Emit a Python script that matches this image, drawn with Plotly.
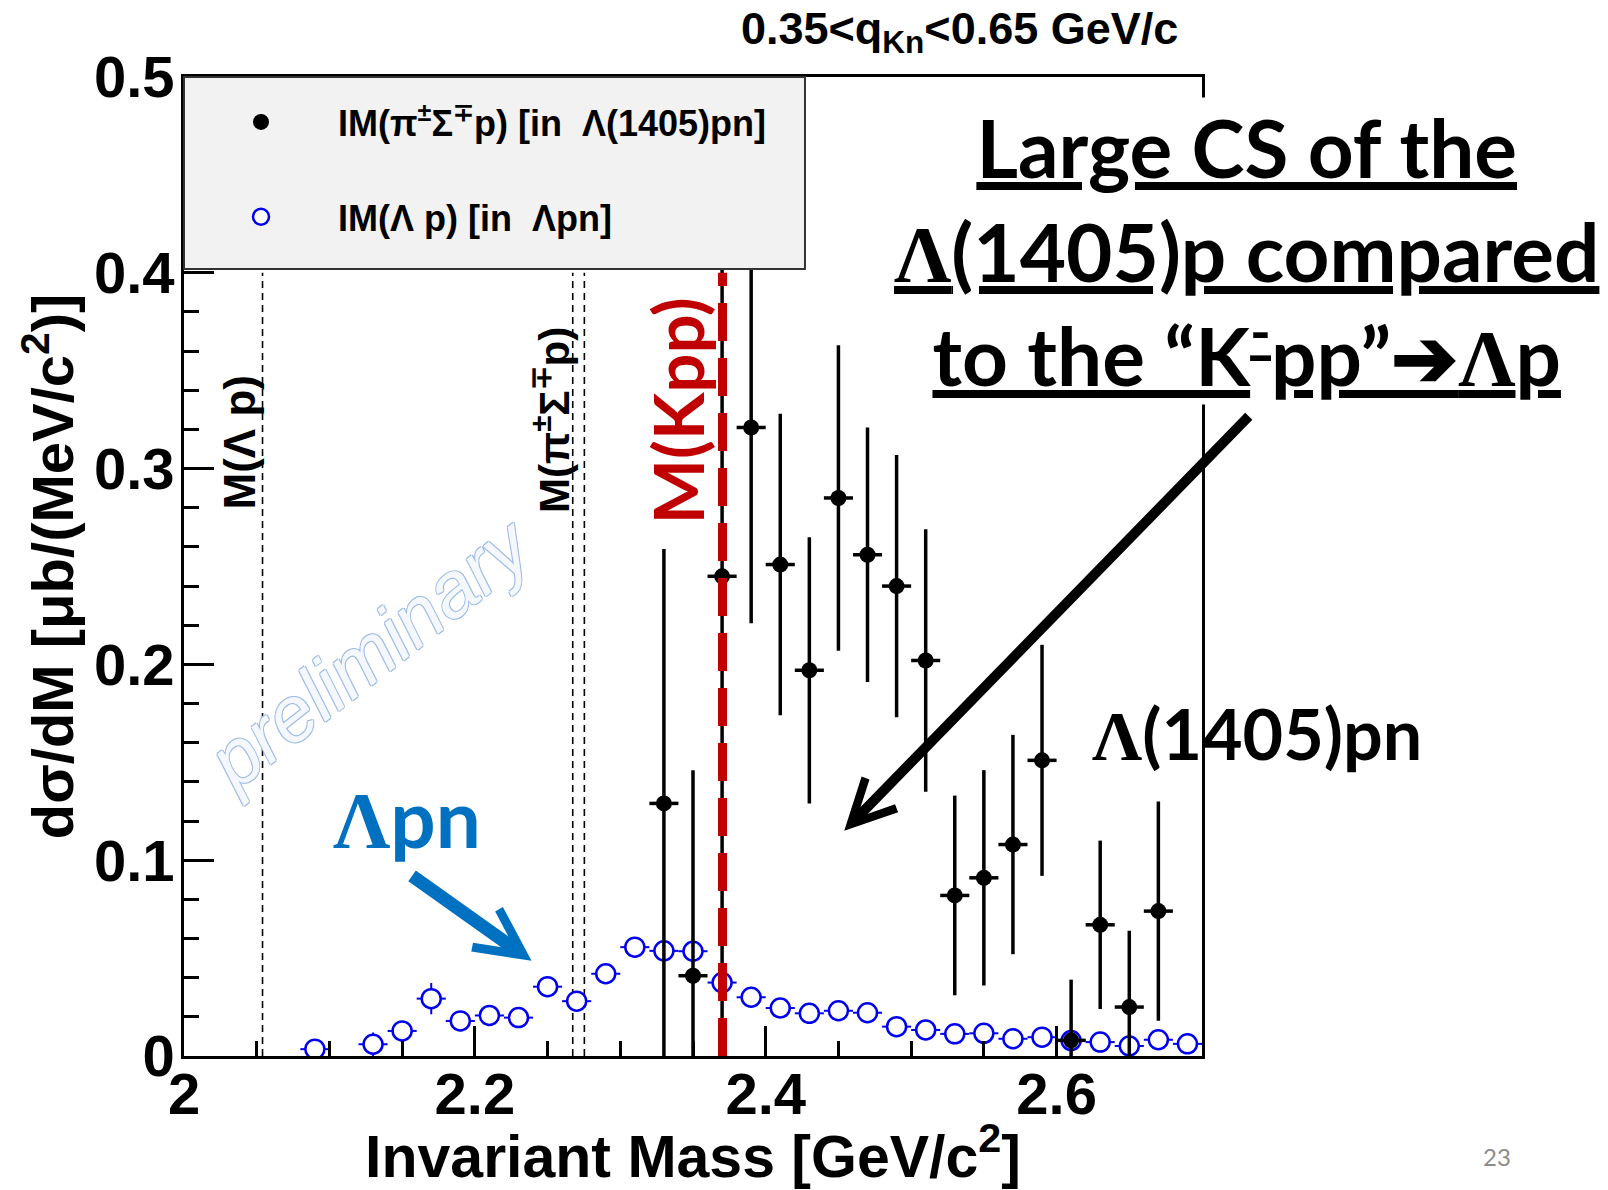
import plotly.graph_objects as go

# Invariant mass bin centres [GeV/c^2] and cross sections [ub/(MeV/c^2)]
# IM(pi Sigma p) in the Lambda(1405)pn channel
m_lpn = [2.33, 2.35, 2.37, 2.39, 2.41, 2.43, 2.45, 2.47, 2.49, 2.51,
         2.53, 2.55, 2.57, 2.59, 2.61, 2.63, 2.65, 2.67]
xs_lpn = [0.129, 0.041, 0.245, 0.321, 0.251, 0.197, 0.285, 0.256, 0.240, 0.202,
          0.082, 0.091, 0.108, 0.151, 0.008, 0.067, 0.025, 0.074]
err_lpn = [0.130, 0.105, 0.250, 0.100, 0.077, 0.068, 0.078, 0.065, 0.067, 0.067,
           0.051, 0.055, 0.056, 0.059, 0.031, 0.043, 0.039, 0.056]

# IM(Lambda p) in the Lambda pn channel
m_lp = [2.09, 2.13, 2.15, 2.17, 2.19, 2.21, 2.23, 2.25, 2.27, 2.29,
        2.31, 2.33, 2.35, 2.37, 2.39, 2.41, 2.43, 2.45, 2.47, 2.49,
        2.51, 2.53, 2.55, 2.57, 2.59, 2.61, 2.63, 2.65, 2.67, 2.69]
xs_lp = [0.0035, 0.006, 0.0128, 0.0293, 0.0179, 0.0207, 0.0196, 0.0354, 0.028, 0.042,
         0.0556, 0.0537, 0.0535, 0.0375, 0.030, 0.0245, 0.0218, 0.0231, 0.0221, 0.015,
         0.0133, 0.0113, 0.0116, 0.0088, 0.0096, 0.0079, 0.0071, 0.0051, 0.0083, 0.0062]
err_lp = [0.003, 0.006, 0.005, 0.008, 0.004, 0.004, 0.004, 0.005, 0.005, 0.004,
          0.004, 0.004, 0.004, 0.004, 0.003, 0.003, 0.003, 0.003, 0.003, 0.003,
          0.003, 0.003, 0.003, 0.003, 0.003, 0.003, 0.003, 0.003, 0.003, 0.003]
bin_half = 0.01

# Thresholds [GeV/c^2]
m_lambda_p = 2.054
m_pisigma_p = [2.2673, 2.2753]
m_kpp = 2.3703

NARROW = "Liberation Sans Narrow, Liberation Sans, Arial"
SANS = "Liberation Sans, Arial"
CAL = "Lato, Open Sans, sans-serif"
SERIF_L = "<span style='font-family:Liberation Serif'>Λ</span>"

# plot area in pixels, used to place the free-standing labels
L, R, T, B = 184, 1202, 77, 1056


def px(xp):
    return (xp - L) / (R - L)


def py(yp):
    return (B - yp) / (B - T)


fig = go.Figure()

fig.add_trace(go.Scatter(
    x=m_lp, y=xs_lp, mode="markers",
    name="IM(Λ p) [in  Λpn]", legendgroup="b", legendrank=2,
    marker=dict(symbol="circle", size=19, color="white",
                line=dict(color="#0000ee", width=2.5)),
    error_x=dict(type="constant", value=bin_half, color="#0000ee", thickness=2, width=0),
    error_y=dict(type="data", array=err_lp, color="#0000ee", thickness=2, width=0),
))

fig.add_trace(go.Scatter(
    x=m_lpn, y=xs_lpn, mode="markers",
    name="IM(π<sup>±</sup>Σ<sup>∓</sup>p) [in  Λ(1405)pn]", legendgroup="a", legendrank=1,
    marker=dict(symbol="circle", size=16, color="black"),
    error_x=dict(type="constant", value=bin_half, color="black", thickness=3.5, width=0),
    error_y=dict(type="data", array=err_lpn, color="black", thickness=3.5, width=0),
))

shapes = []
# threshold markers (thin dashed)
for xv in [m_lambda_p] + m_pisigma_p:
    shapes.append(dict(type="line", xref="x", yref="y", x0=xv, x1=xv, y0=0, y1=0.4,
                       line=dict(color="black", width=1.6, dash="7px,5px"), layer="below"))
# K-pp mass threshold (thick red dashed)
shapes.append(dict(type="line", xref="x", yref="y", x0=m_kpp, x1=m_kpp, y0=0, y1=0.4,
                   line=dict(color="#c00000", width=9, dash="38px,17px"), layer="above"))
# legend box
shapes.append(dict(type="rect", xref="paper", yref="paper", x0=0, x1=0.61, y0=0.804, y1=1.0,
                   fillcolor="#f2f2f2", line=dict(color="#333333", width=2), layer="above"))

annotations = [
    dict(x=px(959), y=py(32), xref="paper", yref="paper", xanchor="center", yanchor="middle",
         showarrow=False, text="0.35<q<sub>Kn</sub><0.65 GeV/c",
         font=dict(family=SANS, size=45, color="black", weight="bold")),
    dict(x=2.0379, y=0.3134, xref="x", yref="y", showarrow=False, textangle=-90,
         text="M(Λ p)", font=dict(family=NARROW, size=44, color="black", weight="bold")),
    dict(x=2.2527, y=0.3246, xref="x", yref="y", showarrow=False, textangle=-90,
         text="M(π<sup>±</sup>Σ<sup>∓</sup>p)",
         font=dict(family=NARROW, size=42, color="black", weight="bold")),
    dict(x=2.3395, y=0.3297, xref="x", yref="y", showarrow=False, textangle=-90,
         text="M(Kpp)", font=dict(family=CAL, size=69, color="#c00000", weight="bold")),
    dict(x=2.1274, y=0.206, xref="x", yref="y", showarrow=False, textangle=-38,
         text="preliminary",
         font=dict(family=SANS, size=78, color="#f4f7fc", style="italic",
                   shadow="1.2px 0 #9fbbe6, -1.2px 0 #9fbbe6, 0 1.2px #9fbbe6, 0 -1.2px #9fbbe6")),
    dict(x=2.1536, y=0.122, xref="x", yref="y", showarrow=False,
         text=SERIF_L + "pn", font=dict(family=CAL, size=80, color="#0070c0", weight="bold")),
    dict(x=px(1257), y=py(733), xref="paper", yref="paper", xanchor="center", yanchor="middle",
         showarrow=False,
         text=SERIF_L + "(1405)pn", font=dict(family=CAL, size=70, color="black", weight="bold")),
    dict(x=px(1246), y=py(251), xref="paper", yref="paper", xanchor="center", yanchor="middle",
         showarrow=False, align="center", bgcolor="white",
         text="<u>Large CS of the</u><br><u>" + SERIF_L + "(1405)p compared</u><br>"
              "<u>to the “K<sup>-</sup>pp”➔" + SERIF_L + "p</u>",
         font=dict(family=CAL, size=80, color="black", weight="bold")),
    # arrows
    dict(x=2.454, y=0.115, xref="x", yref="y", ax=406, ay=-416,
         showarrow=True, arrowhead=5, arrowsize=0.85, arrowwidth=10, arrowcolor="black",
         text=""),
    dict(x=2.239, y=0.0486, xref="x", yref="y", ax=-121, ay=-86,
         showarrow=True, arrowhead=5, arrowsize=0.7, arrowwidth=13, arrowcolor="#0070c0",
         text=""),
    dict(x=px(1497), y=py(1156), xref="paper", yref="paper", xanchor="center", yanchor="middle",
         showarrow=False, text="23",
         font=dict(family=CAL, size=24, color="#8c8c8c")),
]

fig.update_layout(
    width=1608, height=1190,
    margin=dict(l=L, r=1608 - R, t=T, b=1190 - B),
    paper_bgcolor="white", plot_bgcolor="white",
    shapes=shapes, annotations=annotations,
    showlegend=True,
    legend=dict(x=0, y=py(92), xanchor="left", yanchor="top", bgcolor="rgba(0,0,0,0)",
                itemwidth=144, tracegroupgap=45, traceorder="grouped",
                font=dict(family=NARROW, size=36, color="black", weight="bold")),
    xaxis=dict(range=[2, 2.7], dtick=0.2, tick0=2, ticks="inside", ticklen=30, tickwidth=2.5,
               tickcolor="black", showline=True, linecolor="black", linewidth=2.5, mirror=True,
               showgrid=False, zeroline=False, automargin=False, ticklabelstandoff=-14,
               tickfont=dict(family=NARROW, size=58, color="black", weight="bold"),
               minor=dict(dtick=0.05, ticks="inside", ticklen=15, tickwidth=2.5, tickcolor="black",
                          showgrid=False),
               title=dict(text="Invariant Mass [GeV/c<sup>2</sup>]", standoff=17,
                          font=dict(family=SANS, size=59, color="black", weight="bold"))),
    yaxis=dict(range=[0, 0.5], dtick=0.1, tick0=0, ticks="inside", ticklen=30, tickwidth=2.5,
               tickcolor="black", showline=True, linecolor="black", linewidth=2.5, mirror=True,
               showgrid=False, zeroline=False, automargin=False,
               tickformat=".1~f", ticklabelstandoff=-5,
               tickfont=dict(family=NARROW, size=58, color="black", weight="bold"),
               minor=dict(dtick=0.02, ticks="inside", ticklen=15, tickwidth=2.5, tickcolor="black",
                          showgrid=False),
               title=dict(text="dσ/dM [μb/(MeV/c<sup>2</sup>)]", standoff=2,
                          font=dict(family=SANS, size=58, color="black", weight="bold"))),
)

fig.write_html("out.html")
